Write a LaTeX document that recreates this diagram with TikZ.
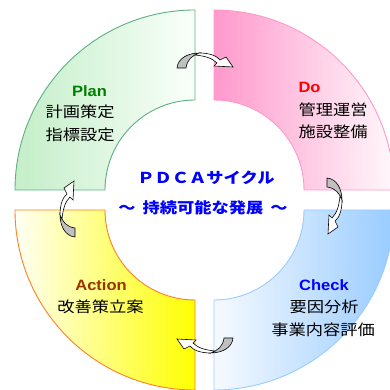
\documentclass[tikz,border=0pt]{standalone}
\usepackage{fontspec}
\setmainfont{Liberation Sans}
\newfontfamily\jp[FakeStretch=1.15]{Noto Sans CJK JP}
\newfontfamily\lat[FakeStretch=1.1]{Liberation Sans}
\definecolor{planL}{HTML}{C4EEC8}
\definecolor{planR}{HTML}{FAFFFA}
\definecolor{planB}{HTML}{5DB083}
\definecolor{doL}{HTML}{FF99CC}
\definecolor{doR}{HTML}{FFF8FB}
\definecolor{doB}{HTML}{FF99CC}
\definecolor{acL}{HTML}{FFFFF4}
\definecolor{acR}{HTML}{FFFF00}
\definecolor{acB}{HTML}{FF7F27}
\definecolor{chL}{HTML}{F6FAFF}
\definecolor{chR}{HTML}{99CCFF}
\definecolor{chB}{HTML}{99CCFF}
\definecolor{planT}{HTML}{008000}
\definecolor{doT}{HTML}{FF0000}
\definecolor{acT}{HTML}{993300}
\definecolor{chT}{HTML}{0000FF}
\definecolor{cenT}{HTML}{0000FF}
\definecolor{arrG}{HTML}{C0C0C0}
\tikzset{
  sect/.style={line width=0.9pt},
  head/.style={font=\lat\bfseries\fontsize{15}{15}\selectfont, anchor=base},
  body/.style={font=\jp\fontsize{15}{15}\selectfont, anchor=base, text=black},
  cen/.style={font=\jp\bfseries\fontsize{15}{15}\selectfont, anchor=base, text=cenT},
  cyc/.pic={
    \path[fill=arrG, draw=black, line width=0.6pt]
      (-28,3) .. controls (-27,13) and (-17,18) .. (-5,18)
      .. controls (-13,16) and (-18,11) .. (-19,3) -- cycle;
    \path[fill=white, draw=black, line width=0.6pt]
      (-6,18) .. controls (5,18) and (12,15) .. (15,11) -- (21,14) -- (28,4)
      -- (9,5) -- (12,8) .. controls (7,13) and (0,15) .. (-10,16) -- cycle;
  }
}
\begin{document}
\begin{tikzpicture}[x=1pt,y=1pt]
\useasboundingbox (0,0) rectangle (390,390);
\fill[white] (0,0) rectangle (390,390);
% Plan
\path[sect, draw=planB, left color=planL, right color=planR]
  (15,200) arc[start angle=180,end angle=90,radius=180] -- (195,290)
  arc[start angle=90,end angle=180,radius=90] -- cycle;
% Do
\path[sect, draw=doB, left color=doL, right color=doR]
  (214,380) arc[start angle=90,end angle=0,radius=180] -- (304,200)
  arc[start angle=0,end angle=90,radius=90] -- cycle;
% Check
\path[sect, draw=chB, left color=chL, right color=chR]
  (304,180) -- (394,180) arc[start angle=0,end angle=-90,radius=180] -- (214,90)
  arc[start angle=-90,end angle=0,radius=90] -- cycle;
% Action
\path[sect, draw=acB, left color=acL, right color=acR]
  (15,180) -- (105,180) arc[start angle=180,end angle=270,radius=90] -- (195,0)
  arc[start angle=270,end angle=180,radius=180] -- cycle;
% arrows
\pic at (205,319) {cyc};
\pic[rotate=-90] at (324,184) {cyc};
\pic[rotate=180] at (205,55) {cyc};
\pic[rotate=90] at (78,181) {cyc};
% texts
\node[head, text=planT] (plan) at (89.5,293) {Plan};
\node[body] (plan1) at (80,272) {計画策定};
\node[body] (plan2) at (80,249) {指標設定};
\node[head, text=doT, anchor=base west] (do) at (295,297) {Do};
\node[body, anchor=base west] (do1) at (295,274) {管理運営};
\node[body, anchor=base west] (do2) at (295,252) {施設整備};
\node[head, text=chT] (check) at (324,99) {Check};
\node[body] (check1) at (324,77) {要因分析};
\node[body] (check2) at (323,54) {事業内容評価};
\node[head, text=acT] (action) at (101,99) {Action};
\node[body] (action1) at (100.5,77) {改善策立案};
\node[cen] (c1) at (206,206) {ＰＤＣＡサイクル};
\node[cen] (c2) at (203,176) {～\hspace{7pt}持続可能な発展\hspace{7pt}～};
\end{tikzpicture}
\end{document}
